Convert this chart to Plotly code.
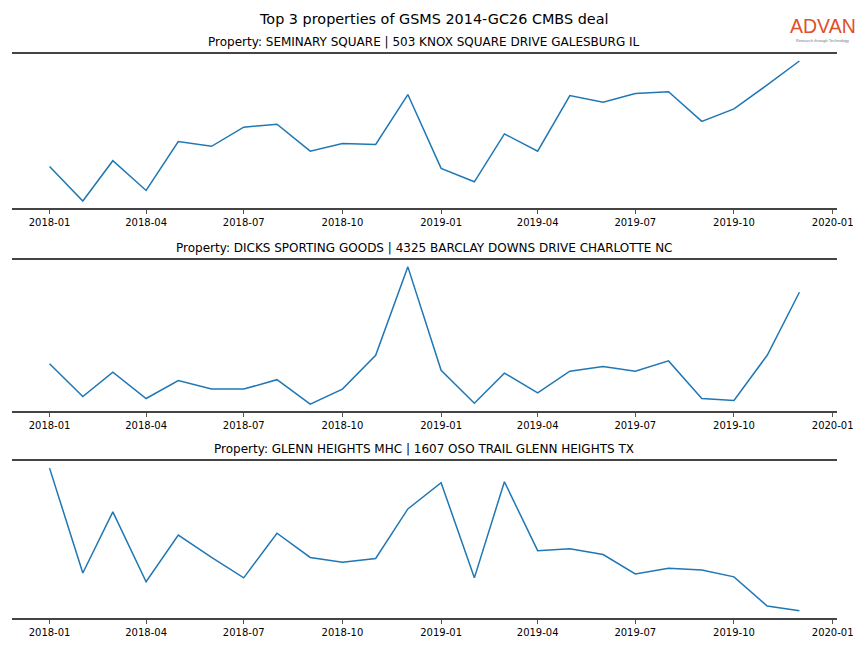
import plotly.graph_objects as go

months = [f"{y}-{m:02d}-01" for y in (2018, 2019) for m in range(1, 13)]

titles = [
    "Property: SEMINARY SQUARE | 503 KNOX SQUARE DRIVE GALESBURG IL",
    "Property: DICKS SPORTING GOODS | 4325 BARCLAY DOWNS DRIVE CHARLOTTE NC",
    "Property: GLENN HEIGHTS MHC | 1607 OSO TRAIL GLENN HEIGHTS TX",
]

seminary = [40, 4, 46, 15, 66, 61, 81, 84, 56, 64, 63, 115,
            38, 24, 74, 56, 114, 107, 116, 118, 87, 100, 125, 150]
dicks = [45, 10, 36, 8, 27, 18, 18, 28, 2, 18, 54, 148,
         38, 3, 35, 14, 37, 42, 37, 48, 8, 6, 54, 121]
glenn = [152, 44, 107, 35, 83, 60, 39, 85, 60, 55, 59, 110,
         137, 39, 138, 67, 69, 63, 43, 49, 47, 40, 10, 5]

series = [seminary, dicks, glenn]
tick_vals = ["2018-01-01", "2018-04-01", "2018-07-01", "2018-10-01",
             "2019-01-01", "2019-04-01", "2019-07-01", "2019-10-01", "2020-01-01"]
tick_text = ["2018-01", "2018-04", "2018-07", "2018-10",
             "2019-01", "2019-04", "2019-07", "2019-10", "2020-01"]

W, H = 864, 648
# observed page geometry: 8px body offset, plot drawn ~845px wide
OFF = 8
RW, RH = 845, 648


def px(x):
    return (x - OFF) / RW


def py(y):
    return 1 - (y - OFF) / RH


x_left, x_right = 12, 835
panels = [(54, 208), (260, 411), (461, 618)]

fig = go.Figure()
layout = dict(
    width=W, height=H,
    margin=dict(l=0, r=0, t=0, b=0),
    paper_bgcolor="white", plot_bgcolor="white",
    showlegend=False,
    font=dict(family="DejaVu Sans", color="black"),
)
annotations = []
for i, (vals, title, (top, bot)) in enumerate(zip(series, titles, panels)):
    n = "" if i == 0 else str(i + 1)
    fig.add_trace(go.Scatter(x=months, y=vals, mode="lines",
                             line=dict(color="#1f77b4", width=1.5),
                             xaxis="x" + n, yaxis="y" + n))
    lo, hi = min(vals), max(vals)
    pad = 0.05 * (hi - lo)
    layout["xaxis" + n] = dict(
        domain=[px(x_left), px(x_right)],
        anchor="y" + n,
        range=["2017-11-27", "2020-01-05"],
        tickvals=tick_vals, ticktext=tick_text,
        ticks="outside", ticklen=4, tickwidth=1, tickcolor="#555",
        tickfont=dict(size=10, family="DejaVu Sans"),
        showline=True, linecolor="#444", linewidth=2, mirror=True,
        showgrid=False, zeroline=False,
    )
    layout["yaxis" + n] = dict(
        domain=[py(bot), py(top)],
        anchor="x" + n,
        range=[lo - pad, hi + pad],
        showticklabels=False, ticks="", showgrid=False,
        zeroline=False, showline=False,
    )
    annotations.append(dict(
        text=title, xref="paper", yref="paper",
        x=px((x_left + x_right) / 2), y=py(top - 12),
        xanchor="center", yanchor="middle", showarrow=False,
        font=dict(size=12, family="DejaVu Sans", color="black"),
    ))

annotations.append(dict(
    text="Top 3 properties of GSMS 2014-GC26 CMBS deal",
    xref="paper", yref="paper", x=px(432), y=py(19),
    xanchor="center", yanchor="middle", showarrow=False,
    font=dict(size=14.4, family="DejaVu Sans", color="black"),
))
annotations.append(dict(
    text="ADVAN", xref="paper", yref="paper", x=px(821), y=py(26.5),
    xanchor="center", yanchor="middle", showarrow=False,
    font=dict(size=19.5, family="Liberation Sans", color="#e0502a"),
))
annotations.append(dict(
    text="Research through Technology", xref="paper", yref="paper",
    x=px(821), y=py(40),
    xanchor="center", yanchor="middle", showarrow=False,
    font=dict(size=4, family="Liberation Sans", color="#777"),
))
layout["annotations"] = annotations
fig.update_layout(**layout)
fig.write_html("out.html")
